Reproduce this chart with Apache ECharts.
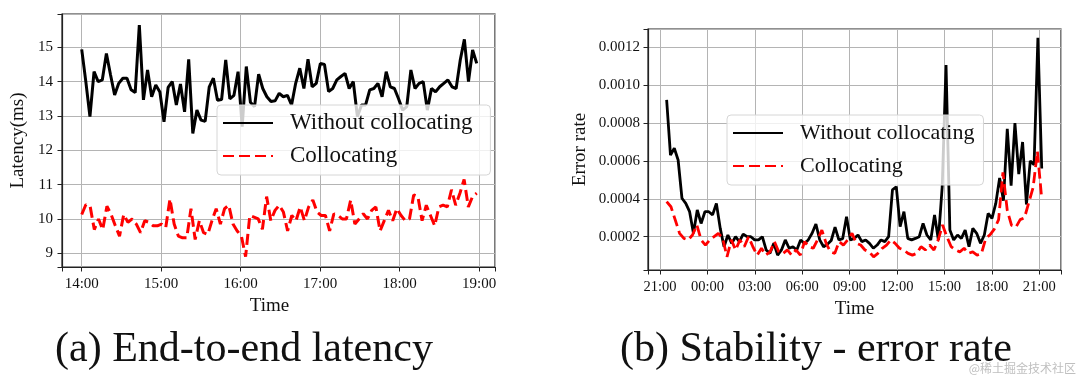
<!DOCTYPE html>
<html><head><meta charset="utf-8">
<script src="https://cdn.jsdelivr.net/npm/echarts@6/dist/echarts.min.js"></script>
<style>html,body{margin:0;padding:0;background:#fff}#c{width:1080px;height:378px}</style>
</head><body><div id="c"></div>
<script>
// ---------- data ----------
const seriesNames = ['Without collocating', 'Collocating'];

// (a) End-to-end latency (ms), samples evenly spaced from 14:00 to ~18:58
const latencyWithout = [14.94, 14.0, 12.98, 14.29, 14.0, 14.05, 14.82, 14.2, 13.61, 13.95, 14.1, 14.1, 13.76, 13.68, 15.65, 13.47, 14.34, 13.56, 13.9, 13.7, 12.83, 13.83, 14.0, 13.32, 13.93, 13.12, 14.65, 12.49, 13.17, 12.88, 12.84, 13.85, 14.1, 13.46, 13.48, 14.63, 13.5, 13.6, 14.29, 12.69, 14.44, 13.4, 13.27, 14.22, 13.8, 13.56, 13.42, 13.44, 13.66, 13.56, 13.6, 13.32, 13.95, 14.39, 13.8, 14.65, 13.85, 13.95, 14.53, 14.5, 13.71, 13.8, 14.05, 14.15, 14.24, 13.8, 14.0, 12.98, 13.32, 13.32, 13.76, 13.8, 13.95, 13.56, 14.29, 13.85, 13.8, 13.5, 13.17, 13.27, 14.34, 13.8, 13.95, 14.0, 13.17, 13.8, 13.7, 13.85, 13.95, 14.05, 13.85, 13.8, 14.63, 15.23, 14.0, 14.92, 14.53];
const latencyCollocating = [10.13, 10.42, 10.37, 9.69, 10.0, 9.69, 10.37, 10.13, 9.8, 9.5, 10.13, 9.9, 10.0, 9.85, 9.6, 9.95, 9.9, 9.8, 9.8, 9.85, 9.75, 10.58, 9.85, 9.5, 9.45, 9.45, 10.3, 9.4, 9.95, 9.6, 9.55, 9.95, 10.3, 9.85, 10.3, 10.4, 9.85, 9.65, 9.5, 8.9, 10.1, 10.05, 10.0, 9.7, 10.65, 9.95, 10.25, 10.4, 10.2, 9.65, 10.1, 9.95, 10.35, 9.95, 10.35, 10.55, 10.2, 10.1, 10.1, 9.65, 10.15, 10.1, 10.0, 10.0, 10.55, 9.85, 10.0, 10.15, 10.0, 10.25, 10.35, 9.65, 9.95, 10.25, 9.95, 10.3, 10.1, 9.95, 10.0, 10.7, 10.65, 9.95, 10.4, 10.1, 9.8, 10.35, 10.4, 10.35, 10.85, 10.4, 10.75, 11.15, 10.35, 10.65, 10.75];
const latencyTimeRange = [14.0, 18.97];           // hours
const latencyTickLabels = ['14:00', '15:00', '16:00', '17:00', '18:00', '19:00'];

// (b) Stability - error rate, samples evenly spaced from ~21:25 to ~21:10 next day
const errorWithout = [0.000922, 0.000631, 0.000667, 0.000605, 0.000403, 0.000376, 0.000332, 0.000218, 0.000341, 0.00027, 0.000332, 0.000332, 0.000315, 0.000376, 0.000244, 0.000147, 0.000209, 0.000165, 0.0002, 0.000174, 0.000214, 0.0002, 0.0002, 0.000183, 0.000183, 0.0002, 0.00013, 0.000112, 0.000165, 0.000103, 0.00013, 0.000183, 0.000139, 0.000147, 0.00013, 0.000183, 0.000165, 0.000183, 0.000218, 0.000267, 0.000183, 0.000147, 0.00016, 0.00018, 0.00025, 0.000183, 0.00019, 0.000306, 0.000183, 0.000191, 0.000209, 0.000174, 0.000183, 0.000165, 0.000139, 0.000156, 0.000183, 0.000174, 0.0002, 0.000447, 0.000464, 0.000253, 0.000332, 0.000191, 0.000183, 0.000191, 0.0002, 0.00027, 0.000209, 0.000183, 0.000315, 0.000183, 0.000464, 0.001106, 0.000235, 0.000183, 0.000209, 0.000191, 0.000235, 0.000147, 0.000244, 0.000218, 0.000165, 0.000209, 0.000323, 0.000297, 0.000376, 0.00051, 0.00039, 0.00077, 0.00047, 0.0008, 0.00053, 0.0007, 0.00037, 0.0006, 0.00058, 0.00125, 0.00056];
const errorCollocating = [0.000385, 0.000358, 0.000288, 0.000218, 0.000191, 0.000183, 0.000209, 0.000262, 0.000183, 0.000156, 0.000183, 0.0002, 0.000218, 0.000191, 0.000094, 0.000183, 0.00013, 0.000183, 0.000147, 0.0002, 0.000147, 0.000103, 0.000139, 0.000103, 0.00012, 0.000174, 0.00012, 0.000112, 0.00013, 0.000103, 0.00013, 0.000103, 0.000174, 0.000147, 0.000139, 0.000183, 0.000235, 0.000165, 0.00012, 0.000112, 0.000174, 0.000156, 0.000183, 0.000218, 0.000165, 0.000156, 0.00013, 0.00012, 0.000094, 0.000112, 0.000139, 0.000156, 0.000183, 0.000165, 0.000139, 0.00013, 0.000112, 0.000103, 0.000112, 0.000147, 0.00013, 0.000156, 0.00013, 0.000183, 0.000262, 0.0002, 0.000147, 0.00013, 0.00012, 0.000139, 0.000112, 0.00012, 0.000103, 0.00011, 0.00019, 0.00021, 0.00024, 0.00029, 0.00054, 0.00034, 0.00026, 0.00025, 0.00029, 0.0003, 0.00038, 0.00046, 0.00065, 0.0004];
const errorTimeRange = [21.42, 45.16];            // hours since midnight of day 1
const errorTickLabels = ['21:00', '00:00', '03:00', '06:00', '09:00', '12:00', '15:00', '18:00', '21:00'];

const captions = ['(a) End-to-end latency', '(b) Stability - error rate'];
const watermark = '@稀土掘金技术社区';

// ---------- helpers ----------
const SERIF = '"Liberation Serif", "DejaVu Serif", serif';
function toPoints(values, range) {
  const n = values.length;
  return values.map((v, i) => [range[0] + (range[1] - range[0]) * i / (n - 1), v]);
}
function onStep(v, base, step) {
  const q = (v - base) / step;
  const k = Math.round(q);
  return Math.abs(q - k) < 1e-6 ? k : null;
}
const axisCommon = {
  axisLine: { show: true, lineStyle: { color: '#222', width: 1.2 } },
  axisTick: { show: true, length: 4.5, inside: false, lineStyle: { color: '#222', width: 1 } },
  splitLine: { show: true, lineStyle: { color: '#b4b4b4', width: 1 } },
  axisLabel: { fontFamily: SERIF, fontSize: 15, color: '#111' },
  nameTextStyle: { fontFamily: SERIF, fontSize: 19, color: '#111' }
};
function axis(extra) {
  const a = JSON.parse(JSON.stringify(axisCommon));
  Object.keys(extra).forEach(k => {
    if (typeof extra[k] === 'object' && a[k] && typeof a[k] === 'object' && !Array.isArray(extra[k])) {
      a[k] = Object.assign(a[k], extra[k]);
    } else a[k] = extra[k];
  });
  return a;
}
function legendAt(left, top, fontSize, padRight) {
  return {
    orient: 'vertical',
    left: left, top: top,
    selectedMode: false,
    data: seriesNames,
    backgroundColor: 'rgba(255,255,255,0.8)',
    borderColor: '#d6d6d6',
    borderWidth: 1,
    borderRadius: 4,
    padding: [5, padRight, 6, 5],
    itemWidth: 50,
    itemHeight: 14,
    itemGap: 7,
    itemStyle: { opacity: 0 },
    textStyle: { fontFamily: SERIF, fontSize: fontSize, color: '#111', lineHeight: 26, padding: [0, 0, 0, 12] }
  };
}

const chart = echarts.init(document.getElementById('c'), null, { renderer: 'canvas' });
chart.setOption({
  animation: false,
  backgroundColor: '#fff',
  grid: [
    { left: 62, top: 14, width: 433, height: 253, show: true, borderColor: '#222', borderWidth: 1.2, backgroundColor: 'transparent', outerBoundsMode: 'none' },
    { left: 648, top: 29, width: 413, height: 241, show: true, borderColor: '#222', borderWidth: 1.2, backgroundColor: 'transparent', outerBoundsMode: 'none' }
  ],
  xAxis: [
    axis({
      type: 'value', gridIndex: 0, min: 13.752, max: 19.2, minInterval: 1, maxInterval: 1, splitNumber: 5,
      name: 'Time', nameLocation: 'middle', nameGap: 30,
      nameTextStyle: { padding: [0, 18, 0, 0] },
      axisLabel: { margin: 10, formatter: v => { const k = onStep(v, 14, 1); return k === null ? '' : (latencyTickLabels[k] || ''); } }
    }),
    axis({
      type: 'value', gridIndex: 1, min: 20.24, max: 46.38, minInterval: 3, maxInterval: 3, splitNumber: 8,
      name: 'Time', nameLocation: 'middle', nameGap: 30,
      axisLabel: { margin: 10, fontSize: 14.5, formatter: v => { const k = onStep(v, 21, 3); return k === null ? '' : (errorTickLabels[k] || ''); } }
    })
  ],
  yAxis: [
    axis({
      type: 'value', gridIndex: 0, min: 8.6, max: 15.97, minInterval: 1, maxInterval: 1, splitNumber: 7,
      name: 'Latency(ms)', nameLocation: 'middle', nameGap: 34,
      axisLabel: { margin: 9, formatter: v => { const k = onStep(v, 0, 1); return k === null ? '' : String(k); } }
    }),
    axis({
      type: 'value', gridIndex: 1, min: 0.0000242, max: 0.0012966, minInterval: 0.0002, maxInterval: 0.0002, splitNumber: 6,
      name: 'Error rate', nameLocation: 'middle', nameGap: 58,
      axisLabel: { margin: 8, formatter: v => { const k = onStep(v, 0, 0.0002); return k === null ? '' : (k * 0.0002).toFixed(4); } }
    })
  ],
  legend: [
    legendAt(217, 105, 23, 18),
    legendAt(727, 115, 22, 9)
  ],
  series: [
    { type: 'line', name: seriesNames[0], xAxisIndex: 0, yAxisIndex: 0, data: toPoints(latencyWithout, latencyTimeRange),
      symbol: 'none', showSymbol: false, lineStyle: { color: '#000', width: 3 }, itemStyle: { color: '#000' } },
    { type: 'line', name: seriesNames[1], xAxisIndex: 0, yAxisIndex: 0, data: toPoints(latencyCollocating, latencyTimeRange),
      symbol: 'none', showSymbol: false, lineStyle: { color: '#ff0000', width: 3, type: [11, 5] }, itemStyle: { color: '#ff0000' } },
    { type: 'line', name: seriesNames[0], xAxisIndex: 1, yAxisIndex: 1, data: toPoints(errorWithout, errorTimeRange),
      symbol: 'none', showSymbol: false, lineStyle: { color: '#000', width: 2.8 }, itemStyle: { color: '#000' } },
    { type: 'line', name: seriesNames[1], xAxisIndex: 1, yAxisIndex: 1, data: toPoints(errorCollocating, errorTimeRange),
      symbol: 'none', showSymbol: false, lineStyle: { color: '#ff0000', width: 2.8, type: [11, 5] }, itemStyle: { color: '#ff0000' } }
  ],
  graphic: [
    { type: 'text', style: { text: captions[0], x: 244, y: 350, align: 'center', verticalAlign: 'middle', font: '42px "Liberation Serif", serif', fill: '#111' } },
    { type: 'text', style: { text: captions[1], x: 816, y: 350, align: 'center', verticalAlign: 'middle', font: '42px "Liberation Serif", serif', fill: '#111' } },
    { type: 'text', style: { text: watermark, x: 1076, y: 368, align: 'right', verticalAlign: 'middle', font: '12px "Noto Sans CJK SC", sans-serif', fill: 'rgba(170,170,170,0.75)' } }
  ]
});
</script>
</body></html>
